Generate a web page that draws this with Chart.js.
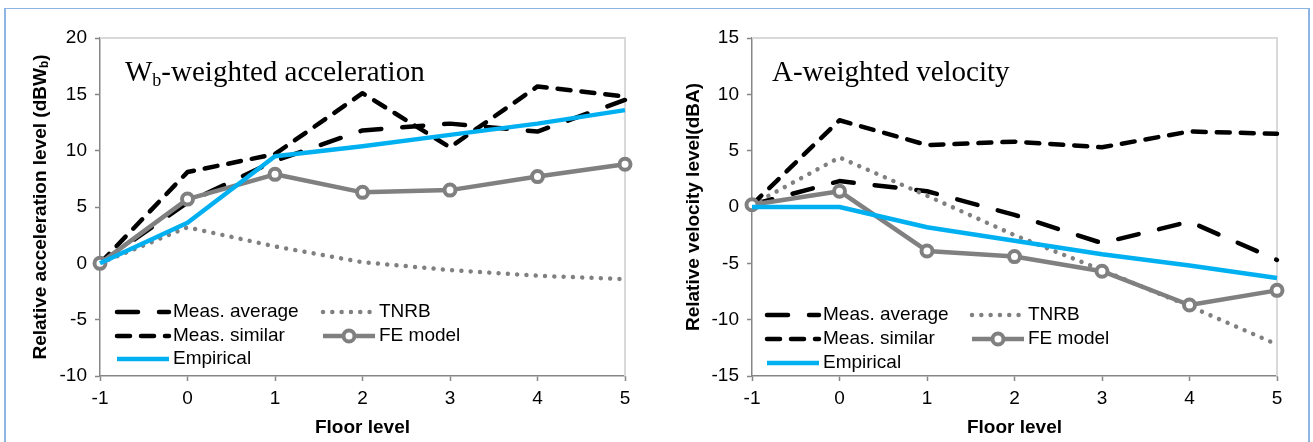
<!DOCTYPE html>
<html><head><meta charset="utf-8">
<script src="https://cdn.jsdelivr.net/npm/chart.js@4.4.1/dist/chart.umd.min.js"></script>
<style>
html,body{margin:0;padding:0;background:#fff;width:1313px;height:442px;overflow:hidden;}
#wrap{position:relative;width:1313px;height:442px;}
canvas{position:absolute;top:0;}
#c1{left:0;width:656px;height:442px;}
#c2{left:656px;width:657px;height:442px;}
.fr{position:absolute;background:#8db4e2;}
</style></head><body>
<div id="wrap">
<canvas id="c1" width="656" height="442"></canvas>
<canvas id="c2" width="657" height="442"></canvas>
<div class="fr" style="left:4px;top:8px;width:1306px;height:1px"></div>
<div class="fr" style="left:4px;top:8px;width:2px;height:434px"></div>
<div class="fr" style="left:1308px;top:8px;width:2px;height:434px"></div>
</div>
<script>
// ---- data ----
const floors = [-1, 0, 1, 2, 3, 4, 5];
const accYTicks = [-10, -5, 0, 5, 10, 15, 20];
const velYTicks = [-15, -10, -5, 0, 5, 10, 15];
const seriesNames = ['Meas. average', 'TNRB', 'Meas. similar', 'FE model', 'Empirical'];

const accMeasAverage = [0, 5.4, 9.1, 11.8, 12.4, 11.7, 14.5];
const accTNRB        = [0, 3.2, 1.5, 0.1, -0.6, -1.1, -1.4];
const accMeasSimilar = [0, 8.1, 9.7, 15.1, 10.3, 15.7, 14.8];
const accFEModel     = [0, 5.7, 7.9, 6.3, 6.5, 7.7, 8.8];
const accEmpirical   = [0, 3.6, 9.5, 10.4, 11.4, 12.4, 13.6];

const velMeasAverage = [0.2, 2.3, 1.4, -0.7, -3.2, -1.3, -4.7];
const velTNRB        = [0.2, 4.4, 1.0, -2.5, -5.6, -8.8, -12.2];
const velMeasSimilar = [0.2, 7.7, 5.5, 5.8, 5.3, 6.7, 6.5];
const velFEModel     = [0.2, 1.4, -3.9, -4.4, -5.7, -8.7, -7.4];
const velEmpirical   = [0, 0, -1.8, -3.0, -4.2, -5.2, -6.3];

// ---- styles ----
const BLACK = '#000000', GRAY = '#808080', BLUE = '#00b0f0';
const SANS = '"Liberation Sans", Arial, sans-serif';
const SERIF = '"Liberation Serif", "Times New Roman", serif';
const styleList = [
  {borderColor: BLACK, borderWidth: 4.5, borderDash: [21, 21], borderCapStyle: 'round', order: 5},
  {borderColor: GRAY, borderWidth: 4.5, borderDash: [0.01, 9.3], borderCapStyle: 'round', order: 4},
  {borderColor: BLACK, borderWidth: 4.5, borderDash: [13, 11], borderCapStyle: 'round', order: 3},
  {borderColor: GRAY, borderWidth: 4.5, pointRadius: 5.5, pointBorderWidth: 4, pointBackgroundColor: '#ffffff', pointBorderColor: GRAY, order: 2},
  {borderColor: BLUE, borderWidth: 4.5, order: 1}
];

function pts(vals) { return floors.map((f, i) => ({x: f, y: vals[i]})); }

function drawRich(ctx, segs, x, y, center) {
  const widths = segs.map(s => { ctx.font = s.font; return ctx.measureText(s.t).width; });
  const total = widths.reduce((a, b) => a + b, 0);
  let cx = center ? x - total / 2 : x;
  segs.forEach((s, i) => { ctx.font = s.font; ctx.fillText(s.t, cx, y + (s.dy || 0)); cx += widths[i]; });
}

function makeOverlay(cfg) {
  return {
    id: 'overlay',
    beforeDatasetsDraw(chart) {
      const {ctx, chartArea: a} = chart;
      ctx.save();
      ctx.strokeStyle = '#d9d9d9'; ctx.lineWidth = 2;
      ctx.beginPath(); ctx.moveTo(a.left, a.top); ctx.lineTo(a.right, a.top); ctx.lineTo(a.right, a.bottom); ctx.stroke();
      ctx.restore();
    },
    afterDraw(chart) {
      const {ctx, chartArea: a} = chart;
      ctx.save();
      ctx.fillStyle = '#000';
      ctx.textBaseline = 'alphabetic';
      drawRich(ctx, cfg.title, cfg.titleX, cfg.titleY, false);
      ctx.save();
      ctx.translate(cfg.yTitleX, (a.top + a.bottom) / 2);
      ctx.rotate(-Math.PI / 2);
      ctx.textBaseline = 'middle';
      drawRich(ctx, cfg.yTitle, 0, 0, true);
      ctx.restore();
      const L = cfg.legend;
      chart.data.datasets.forEach((ds, i) => {
        const col = i % 2, row = Math.floor(i / 2);
        const x = a.left + L.cols[col], y = a.top + L.rows[row];
        ctx.save();
        ctx.strokeStyle = ds.borderColor; ctx.lineWidth = ds.borderWidth;
        ctx.setLineDash(ds.borderDash || []);
        ctx.lineCap = ds.borderCapStyle || 'butt';
        ctx.beginPath(); ctx.moveTo(x, y); ctx.lineTo(x + L.len, y); ctx.stroke();
        if (ds.pointRadius) {
          ctx.setLineDash([]);
          ctx.beginPath(); ctx.arc(x + L.len / 2, y, ds.pointRadius, 0, Math.PI * 2);
          ctx.fillStyle = ds.pointBackgroundColor; ctx.fill();
          ctx.lineWidth = ds.pointBorderWidth; ctx.strokeStyle = ds.pointBorderColor; ctx.stroke();
        }
        ctx.restore();
        ctx.font = '19px ' + SANS; ctx.textBaseline = 'middle'; ctx.fillStyle = '#000';
        ctx.fillText(ds.label, x + L.len + 4, y);
      });
      ctx.restore();
    }
  };
}

function makeChart(id, seriesVals, yTicks, cfg) {
  const datasets = seriesVals.map((vals, i) => Object.assign({
    label: seriesNames[i], data: pts(vals), fill: false, tension: 0,
    pointRadius: 0, borderJoinStyle: 'round', clip: false
  }, styleList[i]));
  return new Chart(document.getElementById(id), {
    type: 'line',
    data: {datasets},
    options: {
      responsive: false, animation: false, devicePixelRatio: 1,
      layout: {padding: {left: 0, top: 38, right: cfg.padRight, bottom: 0}},
      plugins: {legend: {display: false}, tooltip: {enabled: false}},
      scales: {
        x: {
          type: 'linear', min: floors[0], max: floors[floors.length - 1],
          afterFit: s => { s.height = 66; },
          afterBuildTicks: s => { s.ticks = floors.map(v => ({value: v})); },
          ticks: {color: '#000', font: {family: SANS, size: 19}, padding: 6},
          grid: {drawOnChartArea: false, drawTicks: true, tickLength: 5, tickColor: '#868686', tickWidth: 1.5},
          border: {display: true, color: '#868686', width: 1.5},
          title: {display: true, text: 'Floor level', color: '#000', font: {family: SANS, size: 19, weight: 'bold'}, padding: {top: 0, bottom: 3}}
        },
        y: {
          type: 'linear', min: yTicks[0], max: yTicks[yTicks.length - 1],
          afterFit: s => { s.width = cfg.yWidth; },
          afterBuildTicks: s => { s.ticks = yTicks.map(v => ({value: v})); },
          ticks: {color: '#000', font: {family: SANS, size: 19}, padding: 8},
          grid: {drawOnChartArea: false, drawTicks: true, tickLength: 5, tickColor: '#868686', tickWidth: 1.5},
          border: {display: true, color: '#868686', width: 1.5}
        }
      }
    },
    plugins: [makeOverlay(cfg)]
  });
}

makeChart('c1', [accMeasAverage, accTNRB, accMeasSimilar, accFEModel, accEmpirical], accYTicks, {
  padRight: 31, yWidth: 100,
  title: [{t: 'W', font: '29px ' + SERIF}, {t: 'b', font: '18px ' + SERIF, dy: 5}, {t: '-weighted acceleration', font: '29px ' + SERIF}],
  titleX: 125, titleY: 81,
  yTitleX: 41,
  yTitle: [{t: 'Relative acceleration level (dBW', font: 'bold 19px ' + SANS}, {t: 'b', font: 'bold 12px ' + SANS, dy: 4}, {t: ')', font: 'bold 19px ' + SANS}],
  legend: {cols: [17, 223], rows: [274, 298, 321], len: 52}
});

makeChart('c2', [velMeasAverage, velTNRB, velMeasSimilar, velFEModel, velEmpirical], velYTicks, {
  padRight: 36, yWidth: 96,
  title: [{t: 'A-weighted velocity', font: '29px ' + SERIF}],
  titleX: 116, titleY: 81,
  yTitleX: 38,
  yTitle: [{t: 'Relative velocity level(dBA)', font: 'bold 19px ' + SANS}],
  legend: {cols: [15, 220], rows: [277, 301, 325], len: 52}
});
</script>
</body></html>
